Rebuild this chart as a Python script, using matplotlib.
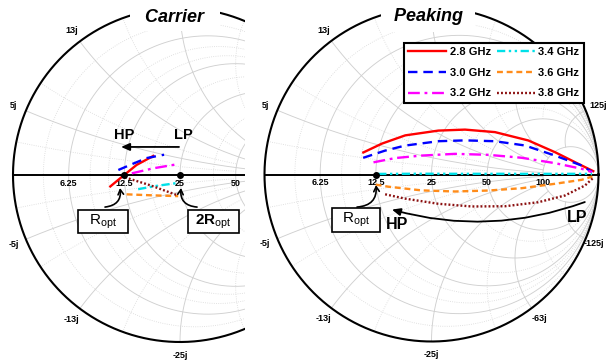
import numpy as np
import matplotlib.pyplot as plt
from matplotlib.patches import Rectangle

plt.rcParams['font.family'] = ['Liberation Sans', 'DejaVu Sans']
plt.rcParams['mathtext.fontset'] = 'custom'
plt.rcParams['mathtext.rm'] = 'Liberation Sans'
plt.rcParams['mathtext.bf'] = 'Liberation Sans:bold'

Z0 = 25.0

freqs = ['2.8 GHz', '3.0 GHz', '3.2 GHz', '3.4 GHz', '3.6 GHz', '3.8 GHz']
colors = ['#ff0000', '#0000ff', '#ff00ff', '#00e0e8', '#ff8c1a', '#8b1010']
styles = ['-', (0, (4, 2.5)), (0, (5, 2, 1.2, 2)), (0, (3.5, 1.5, 1, 1.5, 1, 1.5)),
          (0, (2.5, 1.6)), (0, (0.8, 0.9))]

# impedances in ohm, carrier amplifier
carrier_28 = [10.2-1.7j, 12.1-0.3j, 14.6+1.9j, 17.7+4.2j]
carrier_30 = [11.5+0.8j, 14.0+2.1j, 16.4+3.5j, 20.1+5.0j]
carrier_32 = [13.8+0.3j, 18.1+1.5j, 24.3+3.2j]
carrier_34 = [14.8-2.7j, 18.7-2.5j, 24.4-2.3j]
carrier_36 = [12.6-3.3j, 16.9-4.3j, 23.7-6.1j]
carrier_38 = [12.6-0.4j, 17.3-2.2j, 23.4-5.7j]

# impedances in ohm, peaking amplifier
peaking_28 = [10.2+3.3j, 12.8+5.4j, 16.5+8.4j, 23.5+13.3j, 31.2+18.9j, 44.1+28.3j,
              71.3+46.7j, 127+78j, 298+171j, 1110+723j]
peaking_30 = [10.3+2.5j, 13.6+4.3j, 17.2+6.3j, 25.0+10.4j, 33.7+15.0j, 48.1+23.5j,
              73.3+38.8j, 136+70j, 362+207j, 1113+439j]
peaking_32 = [12.0+2.0j, 15.8+3.3j, 21.7+5.0j, 32.0+8.2j, 48.4+13.1j, 78.8+22.6j,
              155+47j, 420+151j, 1150+437j]
peaking_34 = [12.9+0.1j, 21.8+0.2j, 35.3+0.3j, 59.8+0.6j, 117.7+1.6j, 268+6.9j, 1260+132j]
peaking_36 = [12.4-1.7j, 14.6-2.3j, 21.8-4.2j, 32.4-6.8j, 49.2-10.8j, 80.4-18.8j,
              158-39j, 428-143j, 1196-395j]
peaking_38 = [13.8-3.6j, 17.5-5.3j, 25.4-9.2j, 36.9-15.6j, 55.1-27.2j, 89.4-52.7j,
              154-112j, 348-304j, 1110-723j]

carrier = [carrier_28, carrier_30, carrier_32, carrier_34, carrier_36, carrier_38]
peaking = [peaking_28, peaking_30, peaking_32, peaking_34, peaking_36, peaking_38]

ropt_carrier = [12.5, 25.0]
ropt_peaking = [12.5]

# smith chart grid (normalized)
major_r = [0.2, 0.5, 1, 2, 5]
major_x = [0.2, 0.5, 1, 2, 5]
minor_r = [0.1, 0.3, 0.4, 0.7, 1.5]
minor_x = [0.1, 0.3, 0.7, 1.5, 3]
r_labels = ['6.25', '12.5', '25', '50', '100']
xpos_vals = [0.2, 0.5, 5]
xpos_labels = ['5j', '13j', '125j']
xneg_vals = [0.2, 0.5, 1, 2, 5]
xneg_labels = ['-5j', '-13j', '-25j', '-63j', '-125j']

RAD = 167.0   # chart radius in pixels
H = 363.0


def to_gamma(z):
    zn = np.asarray(z, dtype=complex) / Z0
    return (zn - 1) / (zn + 1)


def gam(zn):
    zn = np.asarray(zn, dtype=complex)
    return (zn - 1) / (zn + 1)


def draw_grid(ax):
    t = np.linspace(0, 2*np.pi, 500)
    for rv, ls, col, lw in [(minor_r, ':', '#d8d8d8', 0.6), (major_r, '-', '#d0d0d0', 0.65)]:
        for r in rv:
            c, rr = r/(1+r), 1/(1+r)
            ax.plot(c + rr*np.cos(t), rr*np.sin(t), ls=ls, color=col, lw=lw, zorder=1)
    # reactance arcs stop at a resistance circle so the right end stays clear
    for xv, smax, ls, col, lw in [(minor_x, 2, ':', '#d8d8d8', 0.6),
                                  (major_x, 5, '-', '#d0d0d0', 0.65)]:
        s = np.linspace(0, smax, 300)
        for x in xv:
            for sg in (1, -1):
                g = gam(s + 1j*sg*x)
                ax.plot(g.real, g.imag, ls=ls, color=col, lw=lw, zorder=1)
    ax.plot(np.cos(t), np.sin(t), color='k', lw=1.5, zorder=3)
    ax.plot([-1, 1], [0, 0], color='k', lw=1.4, zorder=3)
    for r, lab in zip(major_r, r_labels):
        ax.text(gam(r).real, -0.05, lab, ha='center', va='center', fontsize=6.5,
                fontweight='bold', zorder=4, clip_on=True)
    for x, lab in zip(xpos_vals, xpos_labels):
        g = gam(1j*x) * 1.08
        ax.text(g.real, g.imag, lab, ha='center', va='center', fontsize=6.5,
                fontweight='bold', zorder=4, clip_on=True)
    for x, lab in zip(xneg_vals, xneg_labels):
        g = gam(-1j*x) * 1.08
        ax.text(min(g.real, 0.975), g.imag, lab, ha='center', va='center', fontsize=6.5,
                fontweight='bold', zorder=4, clip_on=True)


def setup(ax, cx, cy, x0, x1):
    ax.set_xlim((x0 - cx)/RAD, (x1 - cx)/RAD)
    ax.set_ylim((cy - H)/RAD, cy/RAD)
    ax.axis('off')


fig = plt.figure(figsize=(6.06, 3.63), dpi=100)

# ---------------- Carrier
ax1 = fig.add_axes([0, 0, 245/606, 1])
setup(ax1, 180, 175, 0, 245)
draw_grid(ax1)
for z, c, ls, lab in zip(carrier, colors, styles, freqs):
    g = to_gamma(z)
    ax1.plot(g.real, g.imag, color=c, ls=ls, lw=1.7, zorder=5, label=lab)
g = to_gamma(ropt_carrier)
ax1.plot(g.real, g.imag, 'o', color='k', ms=4, zorder=6)
ax1.text(-0.03, 0.916, '  Carrier  ', ha='center', va='baseline', fontsize=13,
         fontweight='bold', style='italic', zorder=8,
         bbox=dict(boxstyle='square,pad=0.3', fc='white', ec='none'))
ax1.annotate('', xy=(-0.353, 0.168), xytext=(-0.006, 0.168),
             arrowprops=dict(arrowstyle='-|>,head_length=0.5,head_width=0.22',
                             color='k', lw=1.3, shrinkA=0, shrinkB=0), zorder=6)
ax1.text(-0.335, 0.24, 'HP', ha='center', va='center', fontsize=10.5, fontweight='bold')
ax1.text(0.018, 0.24, 'LP', ha='center', va='center', fontsize=10.5, fontweight='bold')
ax1.add_patch(Rectangle((-0.611, -0.347), 0.300, 0.137, fc='white', ec='k', lw=1.2, zorder=7))
ax1.text(-0.461, -0.278, r'R$_{\rm opt}$', ha='center', va='center', fontsize=11, zorder=8)
ax1.add_patch(Rectangle((0.048, -0.347), 0.305, 0.137, fc='white', ec='k', lw=1.2, zorder=7))
ax1.text(0.2006, -0.278, r'2R$_{\rm opt}$', ha='center', va='center', fontsize=11,
         fontweight='bold', zorder=8)
ax1.annotate('', xy=(-0.359, -0.078), xytext=(-0.449, -0.192),
             arrowprops=dict(arrowstyle='->,head_length=0.35,head_width=0.2', color='k',
                             lw=1.2, connectionstyle='arc3,rad=0.5', shrinkA=0, shrinkB=0))
ax1.annotate('', xy=(0.006, -0.078), xytext=(0.102, -0.192),
             arrowprops=dict(arrowstyle='->,head_length=0.35,head_width=0.2', color='k',
                             lw=1.2, connectionstyle='arc3,rad=-0.5', shrinkA=0, shrinkB=0))

# ---------------- Peaking
ax2 = fig.add_axes([250/606, 0, 356/606, 1])
setup(ax2, 431.5, 174.5, 250, 606)
draw_grid(ax2)
for z, c, ls, lab in zip(peaking, colors, styles, freqs):
    g = to_gamma(z)
    ax2.plot(g.real, g.imag, color=c, ls=ls, lw=1.7, zorder=5, label=lab)
g = to_gamma(ropt_peaking)
ax2.plot(g.real, g.imag, 'o', color='k', ms=4, zorder=6)
ax2.text(-0.02, 0.919, ' Peaking ', ha='center', va='baseline', fontsize=13,
         fontweight='bold', style='italic', zorder=8,
         bbox=dict(boxstyle='square,pad=0.4', fc='white', ec='none'))
ax2.add_patch(Rectangle((-0.596, -0.344), 0.288, 0.143, fc='white', ec='k', lw=1.2, zorder=7))
ax2.text(-0.452, -0.272, r'R$_{\rm opt}$', ha='center', va='center', fontsize=11, zorder=8)
ax2.annotate('', xy=(-0.332, -0.063), xytext=(-0.446, -0.195),
             arrowprops=dict(arrowstyle='->,head_length=0.35,head_width=0.2', color='k',
                             lw=1.2, connectionstyle='arc3,rad=0.5', shrinkA=0, shrinkB=0))
ax2.annotate('', xy=(-0.237, -0.21), xytext=(0.918, -0.165),
             arrowprops=dict(arrowstyle='-|>,head_length=0.5,head_width=0.22', color='k',
                             lw=1.3, connectionstyle='arc3,rad=-0.16', shrinkA=0, shrinkB=0))
ax2.text(-0.207, -0.302, 'HP', ha='center', va='center', fontsize=11.5, fontweight='bold')
ax2.text(0.871, -0.26, 'LP', ha='center', va='center', fontsize=11.5, fontweight='bold')

leg = ax2.legend(ncol=2, loc='upper right', bbox_to_anchor=(0.938, 0.882),
                 prop={'weight': 'bold', 'size': 8}, frameon=True, fancybox=False,
                 edgecolor='k', framealpha=1, handlelength=3.4, handletextpad=0.35,
                 columnspacing=0.5, labelspacing=0.95, borderpad=0.4, borderaxespad=0)
leg.get_frame().set_linewidth(1.5)
leg.set_zorder(10)

fig.savefig('out.png', dpi=100)
